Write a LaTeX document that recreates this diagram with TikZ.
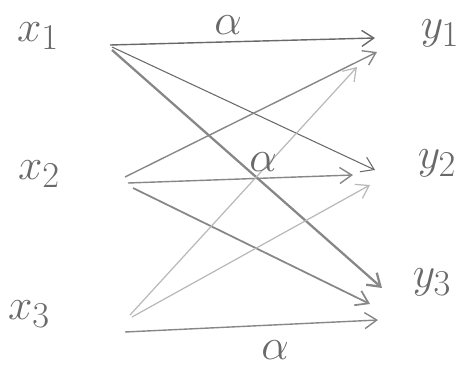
\documentclass[tikz,border=0pt]{standalone}
\usepackage{amsmath}
\usepackage{tikz}
\usetikzlibrary{arrows.meta}
\definecolor{pencildark}{RGB}{105,105,105}
\definecolor{pencilmid}{RGB}{135,135,135}
\definecolor{pencillight}{RGB}{185,185,185}

\begin{document}
\begin{tikzpicture}[
    x=0.02cm, y=-0.02cm,
    >={Straight Barb[length=2.4mm, width=3.2mm]},
    every node/.style={text=pencildark},
    var/.style={font=\fontsize{28}{32}\selectfont},
    weight/.style={font=\fontsize{28}{30}\selectfont, inner sep=0pt},
    fromone/.style={->, line width=0.8pt, pencildark},
    fromtwo/.style={->, line width=0.8pt, pencilmid},
    fromthree/.style={->, line width=0.7pt, pencillight},
]
    \useasboundingbox (0,0) rectangle (465,368);

    % Inputs
    \node[var] (x1) at (38,36) {$x_1$};
    \node[var] (x2) at (39,174) {$x_2$};
    \node[var] (x3) at (29,314) {$x_3$};

    % Outputs
    \node[var] (y1) at (440,33) {$y_1$};
    \node[var] (y2) at (437,163) {$y_2$};
    \node[var] (y3) at (432,282) {$y_3$};

    % Ends of the arrows
    \coordinate (x1out) at (110,45);
    \coordinate (x2out) at (128,181);
    \coordinate (x3out) at (128,320);
    \coordinate (y1in) at (375,45);
    \coordinate (y2in) at (370,178);
    \coordinate (y3in) at (375,300);

    % Arrows from x_1
    \draw[fromone] (x1out) -- ([shift={(0,-7)}]y1in);
    \draw[fromone, line width=0.6pt] ([shift={(2,2)}]x1out) -- ([shift={(5,-8)}]y2in);
    \draw[fromone, line width=1.3pt, pencilmid] ([shift={(2,5)}]x1out) -- ([shift={(7,-12)}]y3in);

    % Arrows from x_2
    \draw[fromtwo] ([shift={(-3,-4)}]x2out) -- ([shift={(2,7)}]y1in);
    \draw[fromtwo] ([shift={(0,2)}]x2out) -- ([shift={(-17,-3)}]y2in);
    \draw[fromtwo, line width=1pt] ([shift={(5,7)}]x2out) -- ([shift={(-5,4)}]y3in);

    % Arrows from x_3
    \draw[fromthree] ([shift={(2,-5)}]x3out) -- ([shift={(-18,22)}]y1in);
    \draw[fromthree] ([shift={(4,-3)}]x3out) -- ([shift={(0,7)}]y2in);
    \draw[fromtwo] ([shift={(-3,12)}]x3out) -- ([shift={(3,20)}]y3in);

    % Weights
    \node[weight] (a1) at (228,25) {$\alpha$};
    \node[weight] (a2) at (263,162) {$\alpha$};
    \node[weight] (a3) at (275,350) {$\alpha$};
\end{tikzpicture}
\end{document}
